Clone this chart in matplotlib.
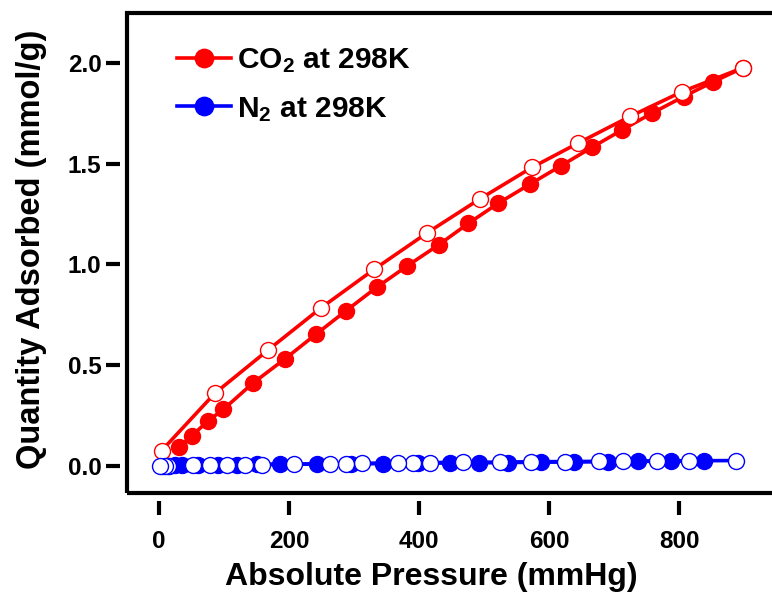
import matplotlib
matplotlib.use("Agg")
import matplotlib.pyplot as plt
from matplotlib.patches import Rectangle

plt.rcParams['font.family'] = ['Liberation Sans', 'DejaVu Sans']
plt.rcParams['font.weight'] = 'bold'
plt.rcParams['mathtext.fontset'] = 'custom'
plt.rcParams['mathtext.rm'] = 'Liberation Sans:bold'
plt.rcParams['mathtext.bf'] = 'Liberation Sans:bold'
plt.rcParams['mathtext.default'] = 'bf'

# CO2 adsorption (filled)
co2_ads_p = [31, 50, 76, 99, 144, 194, 242, 288, 335, 382, 430, 476, 522, 571, 618, 666, 712, 758, 807, 853, 899]
co2_ads_q = [0.093, 0.149, 0.225, 0.281, 0.410, 0.532, 0.655, 0.771, 0.887, 0.993, 1.097, 1.204, 1.304, 1.399,
             1.489, 1.581, 1.667, 1.750, 1.833, 1.907, 1.977]
# CO2 desorption (open)
co2_des_p = [899, 805, 725, 644, 574, 494, 413, 331, 249, 168, 86, 4]
co2_des_q = [1.977, 1.858, 1.735, 1.601, 1.482, 1.326, 1.158, 0.976, 0.784, 0.576, 0.361, 0.076]

# N2 adsorption (filled)
n2_ads_p = [5, 15, 25, 35, 60, 90, 120, 150, 186, 243, 295, 345, 398, 448, 493, 537, 588, 638, 690, 737, 787, 838]
n2_ads_q = [0.001, 0.002, 0.003, 0.004, 0.005, 0.006, 0.007, 0.008, 0.009, 0.010, 0.011, 0.012, 0.014, 0.015,
            0.016, 0.017, 0.019, 0.020, 0.022, 0.023, 0.024, 0.025]
# N2 desorption (open)
n2_des_p = [888, 816, 766, 714, 677, 625, 573, 524, 468, 417, 391, 368, 313, 288, 263, 207, 158, 132, 105, 78,
            52, 14, 9, 1]
n2_des_q = [0.027, 0.026, 0.025, 0.024, 0.023, 0.022, 0.021, 0.019, 0.018, 0.017, 0.016, 0.015, 0.013, 0.012,
            0.011, 0.009, 0.007, 0.006, 0.005, 0.004, 0.003, 0.001, 0.001, 0.0]

labels = [r'CO$_2$ at 298K', r'N$_2$ at 298K']
xticks = [0, 200, 400, 600, 800]
yticks = [0.0, 0.5, 1.0, 1.5, 2.0]

W, H = 772, 599
fig = plt.figure(figsize=(W / 100, H / 100), dpi=100)
L, R, B, T = 126.5, 776.5, 493, 13
ax = fig.add_axes([L / W, (H - B) / H, (R - L) / W, (B - T) / H])

ms = 11.5
lw = 2.6
red = '#ff0000'
blue = '#0000ff'

h1, = ax.plot(co2_ads_p, co2_ads_q, '-o', color=red, lw=lw, ms=ms, mfc=red, mec=red, mew=1, zorder=3)
ax.plot(co2_des_p, co2_des_q, '-o', color=red, lw=lw, ms=ms, mfc='white', mec=red, mew=1, zorder=4)
h2, = ax.plot(n2_ads_p, n2_ads_q, '-o', color=blue, lw=lw, ms=ms, mfc=blue, mec=blue, mew=1, zorder=3)
ax.plot(n2_des_p, n2_des_q, '-o', color=blue, lw=lw, ms=ms, mfc='white', mec=blue, mew=1, zorder=4)

ax.set_xlim(-50, 950)
ax.set_ylim(-0.134, 2.248)
ax.set_xticks(xticks)
ax.set_yticks(yticks)
ax.set_xticklabels([f'{t:d}' for t in xticks])
ax.set_yticklabels([f'{t:.1f}' for t in yticks])

for s in ax.spines.values():
    s.set_visible(False)
ax.spines['bottom'].set_position(('outward', 6))
ax.spines['left'].set_position(('outward', 5))
ax.add_patch(Rectangle((0, 0), 1, 1, transform=ax.transAxes, fill=False, lw=3, ec='black',
                       clip_on=False, zorder=10))

ax.tick_params(axis='both', direction='out', length=10, width=3, labelsize=17.5, pad=3)
ax.tick_params(axis='x', pad=11)
for lab in ax.get_xticklabels() + ax.get_yticklabels():
    lab.set_fontweight('bold')

ax.set_xlabel('Absolute Pressure (mmHg)', fontsize=23, fontweight='bold')
ax.set_ylabel('Quantity Adsorbed (mmol/g)', fontsize=23.5, fontweight='bold')
ax.xaxis.set_label_coords((431 - L) / (R - L), -(562 - B) / (B - T))
ax.yaxis.set_label_coords(-(L - 47) / (R - L), (B - 249) / (B - T))

leg = ax.legend([h1, h2], labels, loc='upper left', bbox_to_anchor=(0.06, 0.955), frameon=False,
                fontsize=21.5, handlelength=1.8, handletextpad=0.2, labelspacing=0.65, markerscale=1.15,
                borderaxespad=0)

fig.savefig('out.png', dpi=100)
